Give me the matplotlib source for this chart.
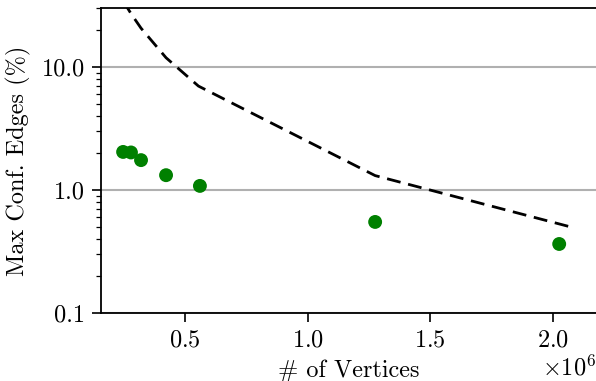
import matplotlib
matplotlib.use("Agg")
import matplotlib.pyplot as plt
from matplotlib.ticker import FixedLocator, FormatStrFormatter, LogLocator, NullFormatter

plt.rcParams['font.family'] = 'serif'
plt.rcParams['font.serif'] = ['cmr10']
plt.rcParams['mathtext.fontset'] = 'cm'
plt.rcParams['axes.unicode_minus'] = False
plt.rcParams['axes.formatter.use_mathtext'] = True
plt.rcParams['font.size'] = 17.5

# measured graphs (vertices, max conflicting edges in %)
vertices = [0.248e6, 0.280e6, 0.321e6, 0.423e6, 0.561e6, 1.275e6, 2.025e6]
conf_edges = [2.04, 2.02, 1.75, 1.32, 1.08, 0.55, 0.364]

# bound curve (dashed)
bound_x = [0.248e6, 0.280e6, 0.321e6, 0.423e6, 0.555e6, 1.275e6, 2.09e6]
bound_y = [34.6, 27.2, 20.7, 11.9, 7.0, 1.31, 0.49]

fig = plt.figure(figsize=(5.96, 3.81), dpi=100)
ax = fig.add_axes([0.1695, 0.1785, 0.8305, 0.8005])

ax.plot(bound_x, bound_y, color='black', linestyle='--', linewidth=2, dashes=(5, 2.8), zorder=3)
ax.scatter(vertices, conf_edges, color='green', s=100, zorder=4, edgecolors='none')

ax.set_yscale('log')
ax.set_ylim(0.1, 30.2)
ax.set_xlim(0.158e6, 2.175e6)

ax.yaxis.set_major_locator(FixedLocator([0.1, 1.0, 10.0]))
ax.yaxis.set_major_formatter(FormatStrFormatter('%.1f'))
ax.yaxis.set_minor_locator(LogLocator(base=10, subs=range(2, 10)))
ax.yaxis.set_minor_formatter(NullFormatter())
ax.set_xticks([0.5e6, 1.0e6, 1.5e6, 2.0e6])
ax.ticklabel_format(axis='x', style='sci', scilimits=(0, 0))

ax.grid(True, axis='y', which='major', color='#b0b0b0', linewidth=1.5)
ax.set_axisbelow(True)
ax.spines['right'].set_visible(False)
for s in ['left', 'bottom', 'top']:
    ax.spines[s].set_linewidth(1.3)
ax.tick_params(which='major', length=6.5, width=1.2, pad=5)
ax.tick_params(which='minor', length=3.6, width=0.9)

ax.set_xlabel('# of Vertices', labelpad=6)
ax.set_ylabel('Max Conf. Edges (%)', labelpad=8)

fig.savefig('out.png', dpi=100)
